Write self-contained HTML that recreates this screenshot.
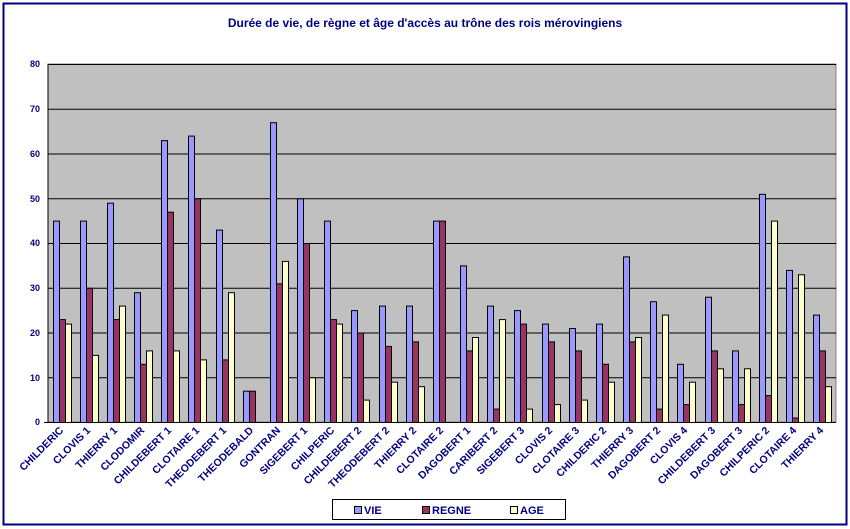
<!DOCTYPE html>
<html><head><meta charset="utf-8"><style>
body{margin:0;background:#fff}
svg{display:block;font-family:"Liberation Sans",Arial,sans-serif;font-weight:bold}
</style></head><body>
<svg id="s" width="850" height="529" viewBox="0 0 850 529" xmlns="http://www.w3.org/2000/svg">
<rect x="0" y="0" width="850" height="529" fill="#fff"/>
<rect x="3.5" y="3.5" width="843" height="521" fill="none" stroke="#000080" stroke-width="2"/>
<text x="425" y="27" text-anchor="middle" font-size="12" fill="#000080">Durée de vie, de règne et âge d'accès au trône des rois mérovingiens</text>
<rect x="48" y="64" width="788" height="358" fill="#C0C0C0" stroke="#808080"/>
<g stroke="#000" stroke-width="1">
<line x1="48" x2="836" y1="64.5" y2="64.5"/><line x1="48" x2="836" y1="109.25" y2="109.25"/>
<line x1="48" x2="836" y1="154" y2="154"/><line x1="48" x2="836" y1="198.75" y2="198.75"/>
<line x1="48" x2="836" y1="243.5" y2="243.5"/><line x1="48" x2="836" y1="288.25" y2="288.25"/>
<line x1="48" x2="836" y1="333" y2="333"/><line x1="48" x2="836" y1="377.75" y2="377.75"/>
<line x1="48" x2="48" y1="64" y2="422"/><line x1="44" x2="836" y1="422.5" y2="422.5"/>
</g>
<g font-size="9" fill="#000080" text-anchor="end">
<text x="40" y="67">80</text><text x="40" y="112">70</text><text x="40" y="157">60</text><text x="40" y="202">50</text>
<text x="40" y="246">40</text><text x="40" y="291">30</text><text x="40" y="336">20</text><text x="40" y="381">10</text><text x="40" y="425">0</text>
</g>
<g id="bars"></g>
<g font-size="10.5" fill="#000080" text-anchor="end">
<text transform="translate(64,431) rotate(-45)">CHILDERIC</text>
<text transform="translate(91,431) rotate(-45)">CLOVIS 1</text>
<text transform="translate(118,431) rotate(-45)">THIERRY 1</text>
<text transform="translate(145,431) rotate(-45)">CLODOMIR</text>
<text transform="translate(172,431) rotate(-45)">CHILDEBERT 1</text>
<text transform="translate(200,431) rotate(-45)">CLOTAIRE 1</text>
<text transform="translate(227,431) rotate(-45)">THEODEBERT 1</text>
<text transform="translate(254,431) rotate(-45)">THEODEBALD</text>
<text transform="translate(281,431) rotate(-45)">GONTRAN</text>
<text transform="translate(308,431) rotate(-45)">SIGEBERT 1</text>
<text transform="translate(335,431) rotate(-45)">CHILPERIC</text>
<text transform="translate(362,431) rotate(-45)">CHILDEBERT 2</text>
<text transform="translate(390,431) rotate(-45)">THEODEBERT 2</text>
<text transform="translate(417,431) rotate(-45)">THIERRY 2</text>
<text transform="translate(444,431) rotate(-45)">CLOTAIRE 2</text>
<text transform="translate(471,431) rotate(-45)">DAGOBERT 1</text>
<text transform="translate(498,431) rotate(-45)">CARIBERT 2</text>
<text transform="translate(525,431) rotate(-45)">SIGEBERT 3</text>
<text transform="translate(553,431) rotate(-45)">CLOVIS 2</text>
<text transform="translate(580,431) rotate(-45)">CLOTAIRE 3</text>
<text transform="translate(607,431) rotate(-45)">CHILDERIC 2</text>
<text transform="translate(634,431) rotate(-45)">THIERRY 3</text>
<text transform="translate(661,431) rotate(-45)">DAGOBERT 2</text>
<text transform="translate(688,431) rotate(-45)">CLOVIS 4</text>
<text transform="translate(716,431) rotate(-45)">CHILDEBERT 3</text>
<text transform="translate(743,431) rotate(-45)">DAGOBERT 3</text>
<text transform="translate(770,431) rotate(-45)">CHILPERIC 2</text>
<text transform="translate(797,431) rotate(-45)">CLOTAIRE 4</text>
<text transform="translate(824,431) rotate(-45)">THIERRY 4</text>
</g>
<rect x="332.5" y="499.5" width="233" height="20" fill="#fff" stroke="#000"/>
<rect x="354.5" y="506.5" width="7" height="7" fill="#9999FF" stroke="#000"/>
<text x="364" y="514" font-size="11" fill="#000080">VIE</text>
<rect x="422.5" y="506.5" width="7" height="7" fill="#993366" stroke="#000"/>
<text x="432" y="514" font-size="11" fill="#000080">REGNE</text>
<rect x="510.5" y="506.5" width="7" height="7" fill="#FFFFCC" stroke="#000"/>
<text x="520" y="514" font-size="11" fill="#000080">AGE</text>
</svg>
<script>
var d=[[45,23,22],[45,30,15],[49,23,26],[29,13,16],[63,47,16],[64,50,14],[43,14,29],[7,7,0],[67,31,36],[50,40,10],[45,23,22],[25,20,5],[26,17,9],[26,18,8],[45,45,0],[35,16,19],[26,3,23],[25,22,3],[22,18,4],[21,16,5],[22,13,9],[37,18,19],[27,3,24],[13,4,9],[28,16,12],[16,4,12],[51,6,45],[34,1,33],[24,16,8]];
var c=["#9999FF","#993366","#FFFFCC"],g=document.getElementById("bars"),h="",cw=788/29;
d.forEach(function(v,i){for(var k=0;k<3;k++){if(!v[k])continue;var x=48+cw*i+4.5+k*6,hh=v[k]*4.475;
h+='<rect x="'+(Math.round(x)+0.5)+'" y="'+(422.5-hh).toFixed(1)+'" width="6" height="'+hh.toFixed(1)+'" fill="'+c[k]+'" stroke="#000" stroke-width="1"/>';}});
g.innerHTML=h;
</script>
</body></html>
